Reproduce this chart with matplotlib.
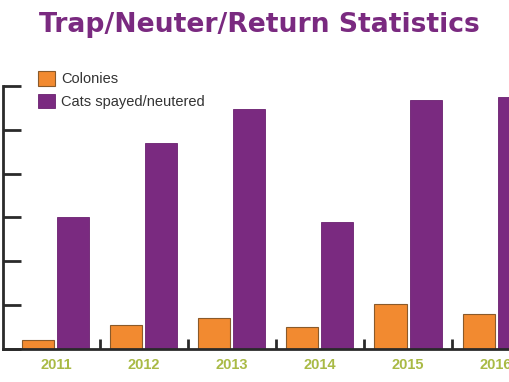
import matplotlib
matplotlib.use("Agg")
import matplotlib.pyplot as plt
import numpy as np

years = ['2011', '2012', '2013', '2014', '2015', '2016']
colonies = [19, 53, 70, 49, 101, 79]
cats = [300, 469, 547, 289, 569, 574]

orange = '#F28A30'
purple = '#7A2A80'
green = '#A9BA45'
dark = '#2a2a2a'

fig = plt.figure(figsize=(5.1, 3.82), dpi=100)
ax = fig.add_axes([3 / 510, 33.3 / 382, 507 / 510, 262.7 / 382])

x = np.arange(len(years))
w = 32 / 88
off = 17.5 / 88
ax.bar(x - off, colonies, w, color=orange, edgecolor='#8a5a2a', linewidth=0.8,
       label='Colonies')
ax.bar(x + off, cats, w, color=purple, edgecolor='#6a2070', linewidth=0.6,
       label='Cats spayed/neutered')

ax.set_xlim(-0.602, 5.159)
ax.set_ylim(0, 600)
ax.set_yticks(range(0, 601, 100))
ax.tick_params(axis='y', direction='in', length=13, width=2, color=dark,
               labelleft=False)
ax.set_xticks(x)
ax.set_xticklabels(years, color=green, fontweight='bold', fontsize=10.5,
                   family='Liberation Sans')
ax.set_xticks(x[:-1] + 0.5, minor=True)
ax.tick_params(axis='x', which='major', length=0, pad=7)
ax.tick_params(axis='x', which='minor', direction='in', length=7, width=2,
               color=dark)

for s in ['top', 'right']:
    ax.spines[s].set_visible(False)
for s in ['left', 'bottom']:
    ax.spines[s].set_linewidth(2)
    ax.spines[s].set_color(dark)

fig.text(0.508, 0.935, 'Trap/Neuter/Return Statistics', ha='center', va='center',
         color=purple, fontsize=19.2, fontweight='bold')

fig.legend(loc='upper left', bbox_to_anchor=(38 / 510, 1 - 71 / 382),
           frameon=False, borderpad=0, borderaxespad=0,
           prop={'family': 'Liberation Sans', 'size': 10.5},
           handlelength=1.16, handleheight=1.16,
           handletextpad=0.45, labelspacing=0.5, labelcolor='#333333')

fig.savefig('out.png', dpi=100)
